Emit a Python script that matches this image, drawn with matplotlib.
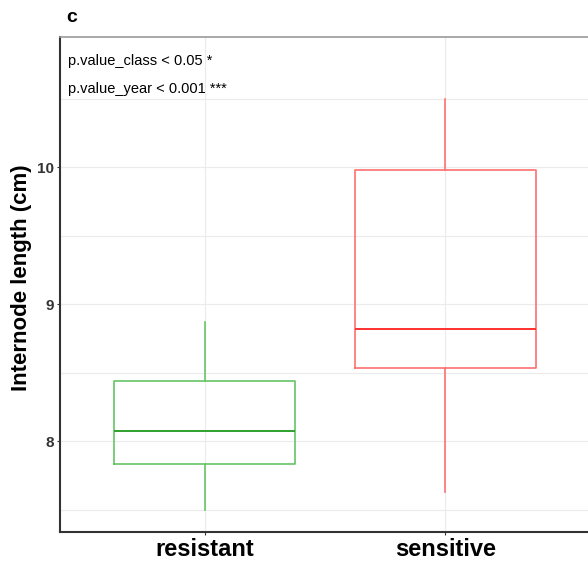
import numpy as np
import matplotlib.pyplot as plt

groups = ['resistant', 'sensitive']
whislo = [7.50, 7.63]
q1 = [7.83, 8.53]
med = [8.07, 8.82]
q3 = [8.44, 9.98]
whishi = [8.87, 10.50]
box_col = ['#66C466', '#FF7070']
med_col = ['#2EA02E', '#FF3030']

plt.rcParams['font.family'] = ['Liberation Sans', 'DejaVu Sans']
fig = plt.figure(figsize=(5.88, 5.67), dpi=100)
ax = fig.add_axes([60/588, 35/567, 530/588, 495/567])

stats = []
for i, g in enumerate(groups):
    stats.append(dict(label=g, whislo=whislo[i], q1=q1[i], med=med[i],
                      q3=q3[i], whishi=whishi[i], fliers=[]))

for i, s in enumerate(stats):
    ax.bxp([s], positions=[i + 1], widths=0.75, showcaps=False,
           boxprops=dict(color=box_col[i], lw=1.2),
           whiskerprops=dict(color=box_col[i], lw=1.2),
           medianprops=dict(color=med_col[i], lw=1.4),
           zorder=3)

ax.set_xlim(0.4, 2.6)
ax.set_ylim(7.336, 10.949)
ax.set_xticks([1, 2])
ax.set_xticklabels(groups, fontsize=17, fontweight='bold')
ax.set_yticks([8, 9, 10])
ax.set_yticklabels(['8', '9', '10'], fontsize=11, fontweight='bold', color='#333333')
ax.set_yticks([7.5, 8.5, 9.5, 10.5], minor=True)
ax.tick_params(axis='y', which='minor', length=0)
ax.tick_params(axis='both', which='major', length=2.5, color='#333333', pad=2)
ax.grid(True, which='both', color='#EBEBEB', lw=0.8, zorder=0)
ax.set_axisbelow(True)

ax.set_ylabel('Internode length (cm)', fontsize=16, fontweight='bold', va='center')
ax.yaxis.set_label_coords(-0.072, 0.514)

for sp in ['left', 'bottom']:
    ax.spines[sp].set_color('#333333')
    ax.spines[sp].set_linewidth(1.5)
ax.spines['top'].set_color('#999999')
ax.spines['top'].set_linewidth(1.2)
ax.spines['right'].set_visible(False)

ax.text(0.015, 0.951, 'p.value_class < 0.05 *', transform=ax.transAxes,
        fontsize=10.5, va='center', ha='left')
ax.text(0.015, 0.894, 'p.value_year < 0.001 ***', transform=ax.transAxes,
        fontsize=10.5, va='center', ha='left')

fig.text(66/588, 1 - 18/567, 'c', fontsize=14, fontweight='bold', va='center', ha='left')

fig.savefig('out.png', dpi=100)
